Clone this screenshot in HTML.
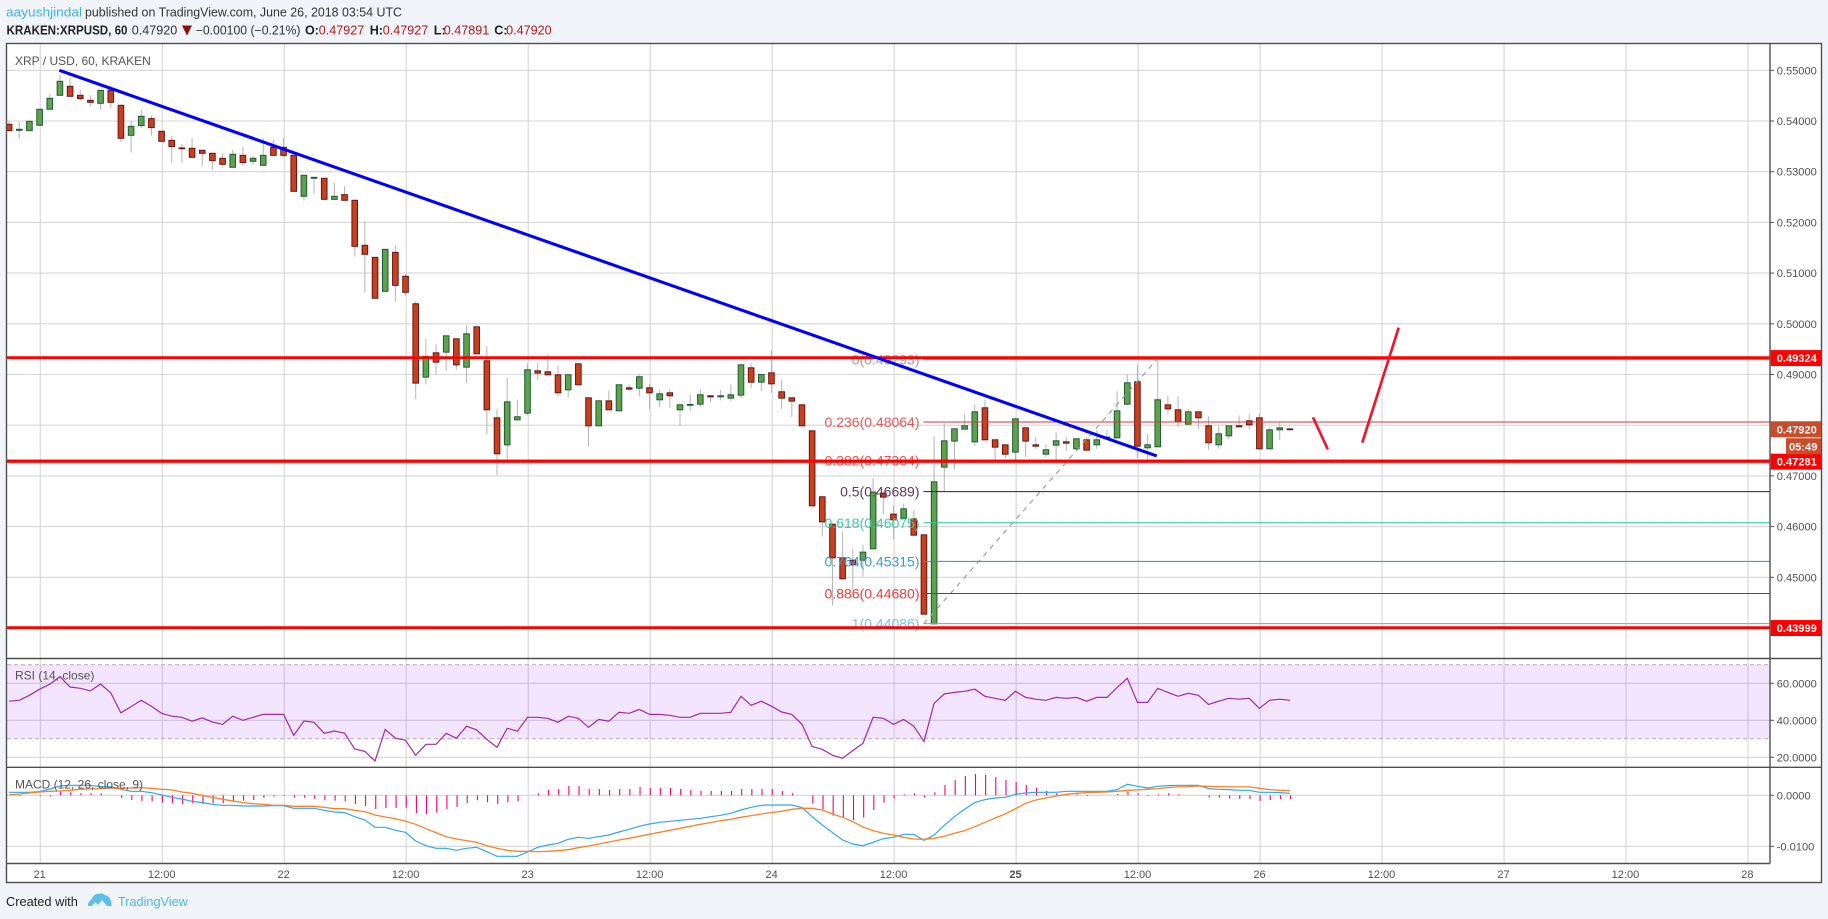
<!DOCTYPE html>
<html lang="en">
<head>
<meta charset="utf-8">
<title>XRP / USD chart</title>
<style>
html,body{margin:0;padding:0;background:#f1f4f8;width:1828px;height:919px;overflow:hidden}
svg{display:block;font-family:"Liberation Sans",sans-serif}
</style>
</head>
<body>
<svg id="chart" xmlns="http://www.w3.org/2000/svg" width="1828" height="919" viewBox="0 0 1828 919">
  <rect x="6.5" y="43.5" width="1815" height="839" fill="#ffffff"/>
  <g id="grid"></g>
  <g id="rsiPane" clip-path="url(#plotClip)"></g>
  <g id="macdPane" clip-path="url(#plotClip)"></g>
  <g id="candles" clip-path="url(#mainClip)"></g>
  <g id="fib" clip-path="url(#mainClip)"></g>
  <g id="drawings" clip-path="url(#mainClip)"></g>
  <defs>
    <clipPath id="mainClip"><rect x="7" y="44" width="1763" height="614"/></clipPath>
    <clipPath id="plotClip"><rect x="7" y="44" width="1763" height="820"/></clipPath>
  </defs>
  <g id="frame" fill="none" stroke="#4f4f4f" stroke-width="1.4">
    <rect x="6.5" y="43.5" width="1815" height="839"/>
    <line x1="1770" y1="43.5" x2="1770" y2="863.5"/>
    <line x1="6.5" y1="658.5" x2="1821.5" y2="658.5"/>
    <line x1="6.5" y1="767.3" x2="1821.5" y2="767.3"/>
    <line x1="6.5" y1="863.5" x2="1770" y2="863.5"/>
  </g>
  <g id="axisLabels"></g>

  <g font-size="12.6" fill="#333">
    <text x="6" y="16.5" fill="#3fb4e6" textLength="76" lengthAdjust="spacingAndGlyphs">aayushjindal</text>
    <text x="85" y="16.5" textLength="317" lengthAdjust="spacingAndGlyphs">published on TradingView.com, June 26, 2018 03:54 UTC</text>
    <text x="6.5" y="34.5" font-weight="bold" fill="#222" textLength="121" lengthAdjust="spacingAndGlyphs">KRAKEN:XRPUSD, 60</text>
    <text x="131.7" y="34.5">0.47920</text>
    <polygon points="182,25.5 192,25.5 187,35.5" fill="#8c0f0f"/>
    <text x="195.7" y="34.5" textLength="104.8" lengthAdjust="spacingAndGlyphs">−0.00100 (−0.21%)</text>
    <text x="305" y="34.5" font-weight="bold" fill="#222">O:</text>
    <text x="318.7" y="34.5" fill="#b01818">0.47927</text>
    <text x="369.7" y="34.5" font-weight="bold" fill="#222">H:</text>
    <text x="382.8" y="34.5" fill="#b01818">0.47927</text>
    <text x="433.8" y="34.5" font-weight="bold" fill="#222">L:</text>
    <text x="443.7" y="34.5" fill="#b01818">0.47891</text>
    <text x="494.3" y="34.5" font-weight="bold" fill="#222">C:</text>
    <text x="506.1" y="34.5" fill="#b01818">0.47920</text>
  </g>
  <text x="15" y="65" font-size="12" fill="#535353">XRP / USD, 60, KRAKEN</text>
  <text x="15" y="679.5" font-size="12" fill="#535353">RSI (14, close)</text>
  <text x="15" y="788.5" font-size="12" fill="#535353">MACD (12, 26, close, 9)</text>

  <g>
    <text x="6" y="906" font-size="12.8" fill="#222">Created with</text>
    <path d="M88 906 Q87.5 902 91 900 Q94 893 99 894 Q102 892 105 895 Q110 896 111.5 903 L111.5 906 L107 906 L102 900 L98 905 L95 902 L92 906 Z" fill="#5ac0ea"/>
    <text x="118" y="906" font-size="12.7" fill="#4db7e8">TradingView</text>
  </g>
</svg>
<script>
// ---- chart data -----------------------------------------------------------
const firstHour = -3;
const opens = [.53935,.53816,.5381,.53915,.54231,.54507,.54684,.54507,.54408,.54349,.54605,.5431,.53718,.53909,.54047,.53797,.53619,.53468,.53461,.53422,.53363,.53264,.53087,.53323,.53205,.53126,.53481,.53481,.53323,.52515,.5287,.5287,.52455,.52548,.52436,.51548,.51311,.50641,.5141,.50937,.50395,.48948,.49428,.49441,.49704,.49145,.49941,.4927,.48146,.47613,.48106,.48238,.49073,.49053,.48994,.48698,.49211,.4854,.47988,.48481,.48284,.48738,.48731,.48738,.48501,.48639,.48304,.48396,.48415,.4858,.4856,.48534,.48593,.49132,.48849,.49033,.48659,.4854,.48402,.47889,.46588,.46048,.45384,.45338,.45338,.45562,.4666,.46246,.46167,.46154,.45838,.44082,.47173,.47686,.47922,.47672,.48343,.47712,.47613,.47469,.47949,.47613,.47429,.47607,.47672,.47534,.47712,.47613,.47745,.47751,.48415,.48856,.47554,.47574,.48402,.48304,.48021,.48264,.47988,.47613,.47791,.47988,.48087,.48146,.47534,.47909,.47927];
const highs = [.54007,.53981,.53994,.54231,.54533,.54915,.54855,.54612,.54507,.54605,.54665,.5431,.54007,.54218,.54112,.53797,.53705,.53547,.53665,.53422,.53363,.53363,.53429,.53488,.5331,.53659,.53626,.53665,.53323,.52929,.52889,.5287,.52778,.52718,.52436,.52028,.51311,.51469,.51555,.50983,.5044,.49711,.49592,.49763,.49704,.49967,.49941,.49553,.4831,.48941,.48507,.49218,.49237,.49395,.49178,.48994,.49211,.4854,.48481,.48685,.48797,.48803,.49001,.48817,.48705,.48705,.48402,.48606,.48705,.4858,.48698,.48803,.49191,.49224,.49001,.49487,.48895,.4854,.48402,.47889,.46614,.46048,.45904,.45562,.45641,.46956,.4668,.46417,.46449,.46318,.45838,.47778,.48041,.47929,.48212,.48409,.48507,.47712,.47613,.4815,.47949,.47764,.4762,.47857,.47764,.47732,.47764,.47895,.47895,.48665,.49001,.49191,.4783,.4929,.48586,.48567,.48317,.48264,.48172,.47995,.47988,.48192,.48212,.48231,.47962,.4806,.47927];
const lows = [.5381,.53652,.5381,.53915,.54231,.54507,.54487,.54402,.54283,.54224,.54244,.53586,.53376,.53863,.53711,.536,.53179,.53179,.53284,.53113,.53041,.5308,.53087,.5312,.53139,.53126,.53323,.53284,.52613,.52429,.52561,.52455,.52455,.52436,.51325,.50614,.50503,.50641,.50437,.50555,.48514,.48803,.49001,.49079,.49099,.4883,.49408,.47817,.47015,.47278,.48106,.48198,.48882,.48994,.48567,.48547,.48797,.47587,.47988,.48304,.48284,.48672,.48567,.48317,.48356,.48337,.47988,.48277,.48356,.48455,.48488,.48475,.48534,.48731,.48672,.48639,.48317,.48159,.47988,.4641,.45805,.44444,.4497,.4474,.45016,.45562,.46233,.45753,.46167,.45831,.44273,.44082,.46699,.47133,.47922,.47587,.47712,.47317,.4735,.47304,.4737,.47534,.4737,.47238,.47488,.47488,.47508,.47534,.47745,.47751,.4839,.4735,.47304,.47574,.48212,.47962,.48002,.47929,.47515,.47534,.47725,.47968,.47922,.47534,.47534,.47712,.47891];
const closes = [.5381,.53836,.53994,.54231,.54448,.54783,.54487,.54441,.54369,.54605,.54369,.53659,.53895,.54093,.53869,.536,.53494,.53455,.53284,.53363,.53218,.53146,.53343,.53179,.53264,.53323,.53323,.53323,.52613,.52929,.52889,.52455,.52515,.52436,.51528,.51371,.50503,.51469,.50759,.50621,.4883,.49356,.49244,.49763,.49191,.49803,.49408,.48304,.47436,.48461,.48166,.49093,.49027,.48994,.48639,.48994,.48797,.47988,.48481,.48304,.48797,.48711,.48955,.48639,.48619,.4858,.48402,.48409,.486,.4856,.4858,.486,.49191,.48849,.49001,.48816,.48534,.48475,.47988,.4641,.46094,.45384,.4497,.45246,.45496,.4668,.46581,.46134,.46351,.45831,.44273,.46883,.47692,.47929,.47988,.48264,.47712,.47567,.47429,.48126,.47686,.47587,.47515,.47692,.47646,.47732,.47508,.47712,.47765,.48284,.48836,.47587,.47613,.48501,.48323,.48067,.48264,.48146,.47653,.4783,.47988,.47968,.48008,.47534,.47909,.47949,.4792];
const rsiValues = [50.3,50.8,53.5,56.8,59.5,63.6,58.0,57.3,55.9,59.6,54.8,44.0,47.4,50.8,47.6,43.8,42.2,41.6,39.5,41.3,39.1,37.8,42.2,40.0,41.6,43.2,43.2,43.2,31.9,39.6,38.9,33,34.2,33,24.5,23.2,18,35.1,30.3,29.2,21.1,27,27,33,30.3,36.8,34.8,29.7,25.4,35.7,34.1,41.6,41.6,41.1,38.9,42.2,41.1,36.2,40.5,39.5,44.3,43.8,45.9,43.2,43.2,42.7,41.6,41.6,43.8,43.8,43.8,44.3,53,48.1,50.3,47.6,44.5,43.2,37.8,25.9,24.3,21.1,19.5,23.6,27.6,41.6,41.1,37.8,40.5,36.8,28.6,49.2,54.2,55.1,55.7,56.8,53,51.9,50.8,55.7,52.4,51.4,50.8,52.4,51.9,52.4,50.3,52.4,52.4,57.7,62.7,49.7,49.7,57.3,55.1,53,54.6,53.5,48.6,50.3,51.9,51.4,51.9,46.5,50.8,51.4,50.8];
// MACD series are in thousandths (0.001)
const macdValues = [.59,.59,.59,.72,1.24,1.83,1.96,1.96,1.96,1.70,1.64,1.18,.78,.78,.52,.07,-.39,-.72,-1.18,-1.44,-1.77,-1.96,-1.96,-2.09,-2.09,-2.09,-2.03,-2.03,-2.55,-2.55,-2.55,-2.94,-3.27,-3.40,-4.19,-4.84,-6.28,-6.28,-6.87,-7.26,-8.96,-9.88,-10.4,-10.4,-10.79,-10.4,-10.2,-11.05,-11.97,-11.97,-11.97,-11.12,-10.2,-9.74,-9.42,-8.63,-8.24,-8.44,-8.11,-7.78,-7.19,-6.67,-6.08,-5.62,-5.30,-5.10,-4.91,-4.71,-4.51,-4.19,-3.92,-3.53,-2.88,-2.35,-1.96,-1.90,-1.90,-1.90,-2.42,-4.19,-5.82,-7.32,-8.76,-9.55,-9.88,-9.22,-8.50,-8.24,-7.65,-7.65,-8.83,-7.78,-5.89,-4.19,-2.75,-1.44,-.85,-.52,-.39,.20,.46,.59,.59,.59,.78,.78,.78,.78,.78,1.11,2.16,1.77,1.44,1.77,1.90,1.96,1.96,1.96,1.31,1.18,1.11,.98,.98,.59,.59,.52,.39];
const signalValues = [.07,.26,.46,.65,.78,.85,.98,1.18,1.24,1.31,1.44,1.37,1.44,1.50,1.37,1.18,1.05,.65,.39,0,-.39,-.78,-1.11,-1.44,-1.64,-1.77,-1.96,-1.96,-2.16,-2.16,-2.16,-2.35,-2.62,-2.62,-2.94,-3.2,-3.86,-4.25,-4.58,-5.1,-5.69,-6.54,-7.32,-8.11,-8.57,-8.89,-9.22,-9.88,-10.4,-10.79,-10.99,-10.99,-11.05,-10.99,-10.86,-10.66,-10.27,-9.94,-9.55,-9.16,-8.76,-8.44,-8.04,-7.65,-7.26,-6.87,-6.47,-6.08,-5.69,-5.36,-4.97,-4.71,-4.32,-3.99,-3.66,-3.4,-3.14,-2.75,-2.55,-2.55,-2.88,-3.66,-4.32,-5.17,-6.21,-6.93,-7.46,-7.78,-8.24,-8.57,-8.63,-8.44,-8.04,-7.46,-6.93,-6.15,-5.3,-4.45,-3.66,-2.62,-1.57,-.92,-.52,-.13,.2,.39,.52,.59,.65,.78,.98,1.05,1.18,1.31,1.5,1.64,1.7,1.83,1.77,1.7,1.64,1.64,1.64,1.37,1.11,.98,.92];
const histValues = [0,-.13,0,-.13,-.2,.72,.59,.39,.39,.39,0,-.52,-.92,-1.11,-1.18,-1.44,-1.5,-1.7,-1.57,-1.7,-1.57,-1.57,-1.31,-1.05,-.92,-.52,-.26,-.13,-.46,-.46,-.72,-.98,-1.05,-1.18,-1.7,-2.09,-2.68,-2.49,-2.49,-2.42,-3.47,-3.66,-3.4,-2.68,-2.29,-1.57,-.98,-1.37,-1.7,-1.37,-1.18,0,.39,1.05,1.24,1.83,1.83,1.24,1.24,1.05,1.24,1.24,1.64,1.44,1.44,1.44,1.24,1.05,.85,.85,.85,.85,1.24,1.24,1.24,1.24,.85,.39,0,-1.64,-2.75,-3.99,-4.38,-4.84,-4.38,-2.88,-1.44,-.65,.2,.39,-.46,.59,2.03,3.01,3.79,4.19,3.99,3.6,3.01,2.62,2.03,1.44,.85,.39,.2,.2,-.13,0,0,.26,.78,.39,-.13,.2,.39,.2,0,0,-.46,-.46,-.65,-.72,-.72,-1.11,-.92,-.72,-.72];

const priceTicks = [0.55,0.54,0.53,0.52,0.51,0.50,0.49,0.47,0.46,0.45];
const priceGridExtra = [0.48];
const rsiTicks = [60,40,20];
const rsiBand = [70,30];
const macdTicks = [0,-10];
const timeHours = [0,12,24,36,48,60,72,84,96,108,120,132,144,156,168];
const timeLabels = ["21","12:00","22","12:00","23","12:00","24","12:00","25","12:00","26","12:00","27","12:00","28"];

const keyLevels = [0.49324,0.47281,0.43999];
const keyLabels = ["0.49324","0.47281","0.43999"];
const haloLevels = [0.47281];
const lastPrice = 0.4792;
const lastPriceLabel = "0.47920";
const countdownLabel = "05:49";

const fibPrices = [0.49293,0.48064,0.47304,0.46689,0.46075,0.45315,0.44680,0.44086];
const fibTexts = ["0(0.49293)","0.236(0.48064)","0.382(0.47304)","0.5(0.46689)","0.618(0.46075)","0.764(0.45315)","0.886(0.44680)","1(0.44086)"];
const fibLineColors = ["#8a8a8a","#c83a3a","#f03030","#40122e","#1fcc96","#2f8fc4","#e01010","#62aecb"];
const fibTextColors = ["#a0a0a0","#e05a5a","#f25050","#5e3a52","#35d0a2","#3a9ad8","#f23a3a","#78c2ea"];
const fibStartHour = 86.88;

const trendHours = [1.87,109.83];
const trendPrices = [0.55,0.47393];
const fibDiagonalHours = [86.92,109.83];
const fibDiagonalPrices = [0.44086,0.49293];
const downArrowHours = [125.2,126.66];
const downArrowPrices = [0.48156,0.47525];
const upArrowHours = [130.05,133.63];
const upArrowPrices = [0.47655,0.49923];

// ---- axis functions -------------------------------------------------------
function xScale(h){return 40.3+h*10.165;}
function barX(h){return xScale(h)-0.7;}
function priceY(p){return 70.3+(0.55-p)*5070;}
function rsiY(v){return 683.3+(60-v)*1.85;}
function macdY(m){return 795.3-m*5.1;}
const PLOT_LEFT=7, PLOT_RIGHT=1770, AXIS_RIGHT=1821;

const NS="http://www.w3.org/2000/svg";
function mk(parent,tag,attrs,txt){
  const el=document.createElementNS(NS,tag);
  for(const k in attrs){el.setAttribute(k,attrs[k]);}
  if(txt!==undefined){el.textContent=txt;}
  parent.appendChild(el);
  return el;
}
const grid=document.getElementById('grid');
const candles=document.getElementById('candles');
const rsiPane=document.getElementById('rsiPane');
const macdPane=document.getElementById('macdPane');
const fib=document.getElementById('fib');
const drawings=document.getElementById('drawings');
const axisLabels=document.getElementById('axisLabels');
const GRID="#d6d6d6";

function hline(y){
  const l=mk(grid,'line',{x1:PLOT_LEFT,x2:PLOT_RIGHT,y1:y,y2:y,stroke:GRID,'stroke-width':1.1});
  
  
}
function axisTick(y){
  const t=mk(axisLabels,'line',{x1:PLOT_RIGHT,x2:PLOT_RIGHT+4,y1:y,y2:y,stroke:'#4f4f4f','stroke-width':1});
  
  
}
function axisText(y,s){
  const t=mk(axisLabels,'text',{x:1776.7,y:y+4,'font-size':11.1,fill:'#505050'},s);
  
  
}

// vertical grid + time labels
timeHours.forEach(function(h,i){
  const v=mk(grid,'line',{x1:xScale(h),x2:xScale(h),y1:44,y2:863.5,stroke:GRID,'stroke-width':1.1});
  
  
  const attrs={x:xScale(h)-0.6,y:878.2,'font-size':11,fill:'#505050','text-anchor':'middle'};
  if(timeLabels[i]==="25"){attrs['font-weight']='bold';}
  const t=mk(axisLabels,'text',attrs,timeLabels[i]);
  
  
});
// price grid
priceTicks.forEach(function(p){
  hline(priceY(p));
  axisTick(priceY(p));
  axisText(priceY(p),p.toFixed(5));
});
priceGridExtra.forEach(function(p){hline(priceY(p));});

// RSI pane
const band=mk(rsiPane,'rect',{x:PLOT_LEFT,width:PLOT_RIGHT-PLOT_LEFT,y:rsiY(rsiBand[0]),height:rsiY(rsiBand[1])-rsiY(rsiBand[0]),fill:'#9915ff','fill-opacity':0.11});


rsiBand.forEach(function(v){
  const l=mk(rsiPane,'line',{x1:PLOT_LEFT,x2:PLOT_RIGHT,y1:rsiY(v),y2:rsiY(v),stroke:'#b8a9bd','stroke-width':1,'stroke-dasharray':'4 3'});
  
  
});
rsiTicks.forEach(function(v){
  hline(rsiY(v));
  axisTick(rsiY(v));
  axisText(rsiY(v),v.toFixed(4));
});
const rsiPts=rsiValues.map(function(v,i){return barX(firstHour+i).toFixed(1)+','+rsiY(v).toFixed(1);}).join(' ');
const rsiLine=mk(rsiPane,'polyline',{points:rsiPts,fill:'none',stroke:'#a02aa8','stroke-width':1.2});



// MACD pane
macdTicks.forEach(function(m){
  hline(macdY(m));
  axisTick(macdY(m));
  axisText(macdY(m),(m/1000).toFixed(4));
});
histValues.forEach(function(m,i){
  const x=xScale(firstHour+i);
  const b=mk(macdPane,'line',{x1:x,x2:x,y1:macdY(0),y2:macdY(m),stroke:'#f5006e','stroke-width':1.1});
  
  
});
const macdPts=macdValues.map(function(m,i){return barX(firstHour+i).toFixed(1)+','+macdY(m).toFixed(1);}).join(' ');
const macdLine=mk(macdPane,'polyline',{points:macdPts,fill:'none',stroke:'#2fa7f0','stroke-width':1.2});


const sigPts=signalValues.map(function(m,i){return barX(firstHour+i).toFixed(1)+','+macdY(m).toFixed(1);}).join(' ');
const sigLine=mk(macdPane,'polyline',{points:sigPts,fill:'none',stroke:'#f98326','stroke-width':1.3});



// candles
opens.forEach(function(o,i){
  const c=closes[i], up=c>=o, x=barX(firstHour+i);
  const w=mk(candles,'line',{x1:x,x2:x,y1:priceY(highs[i]),y2:priceY(lows[i]),stroke:'#b4b4b4','stroke-width':1});
  
  
  const top=priceY(Math.max(o,c)), bot=priceY(Math.min(o,c));
  const r=mk(candles,'rect',{x:x-2.8,width:5.6,y:top,height:Math.max(bot-top,0.8),fill:up?'#5fa24d':'#c9401f',stroke:up?'#1f5a35':'#681414','stroke-width':1});
  
  
});

// fibonacci lines and labels
const fibDiag=mk(fib,'line',{x1:xScale(fibDiagonalHours[0]),y1:priceY(fibDiagonalPrices[0]),x2:xScale(fibDiagonalHours[1]),y2:priceY(fibDiagonalPrices[1]),stroke:'#9a9a9a','stroke-width':1.1,'stroke-dasharray':'5 5'});


fibPrices.forEach(function(p,i){
  const l=mk(fib,'line',{x1:xScale(fibStartHour),x2:PLOT_RIGHT,y1:priceY(p),y2:priceY(p),stroke:fibLineColors[i],'stroke-width':1});
  
  
  const t=mk(fib,'text',{x:919.5,y:priceY(p)+5,'font-size':14,fill:fibTextColors[i],'text-anchor':'end'},fibTexts[i]);
  
  
});

// horizontal key levels
haloLevels.forEach(function(p){
  const h=mk(drawings,'line',{x1:PLOT_LEFT,x2:PLOT_RIGHT,y1:priceY(p)-0.4,y2:priceY(p)-0.4,stroke:'#ff0000','stroke-opacity':0.3,'stroke-width':4.2});
  
  
});
keyLevels.forEach(function(p){
  const l=mk(drawings,'line',{x1:PLOT_LEFT,x2:PLOT_RIGHT,y1:priceY(p)-0.4,y2:priceY(p)-0.4,stroke:'#ff0000','stroke-width':2.9});
  
  
});
// trend line and arrows
const trend=mk(drawings,'line',{x1:xScale(trendHours[0]),y1:priceY(trendPrices[0]),x2:xScale(trendHours[1]),y2:priceY(trendPrices[1]),stroke:'#0000ff','stroke-width':3.1});


const arrowDown=mk(drawings,'line',{x1:xScale(downArrowHours[0]),y1:priceY(downArrowPrices[0]),x2:xScale(downArrowHours[1]),y2:priceY(downArrowPrices[1]),stroke:'#f0142a','stroke-width':2.6});


const arrowUp=mk(drawings,'line',{x1:xScale(upArrowHours[0]),y1:priceY(upArrowPrices[0]),x2:xScale(upArrowHours[1]),y2:priceY(upArrowPrices[1]),stroke:'#f0142a','stroke-width':2.6});



// price-axis boxes
keyLevels.forEach(function(p,i){
  const y=priceY(p);
  const b=mk(axisLabels,'rect',{x:PLOT_RIGHT+0.7,y:y-8,width:AXIS_RIGHT-PLOT_RIGHT-0.7,height:16,fill:'#ff0000'});
  
  
  const t=mk(axisLabels,'text',{x:1776.7,y:y+4,'font-size':11.1,'font-weight':'bold',fill:'#ffffff'},keyLabels[i]);
  
  
});
const lastY=priceY(lastPrice);
const lastBox=mk(axisLabels,'rect',{x:PLOT_RIGHT+0.7,y:lastY-8,width:AXIS_RIGHT-PLOT_RIGHT-0.7,height:16,fill:'#cb4a2a'});


const lastTxt=mk(axisLabels,'text',{x:1776.7,y:lastY+4,'font-size':11.1,'font-weight':'bold',fill:'#ffffff'},lastPriceLabel);


const cdBox=mk(axisLabels,'rect',{x:1786,y:lastY+9,width:AXIS_RIGHT-1786,height:16,fill:'#cb4a2a'});


const cdTxt=mk(axisLabels,'text',{x:1789,y:lastY+21,'font-size':11.1,'font-weight':'bold',fill:'#ffffff'},countdownLabel);


</script>
</body>
</html>
